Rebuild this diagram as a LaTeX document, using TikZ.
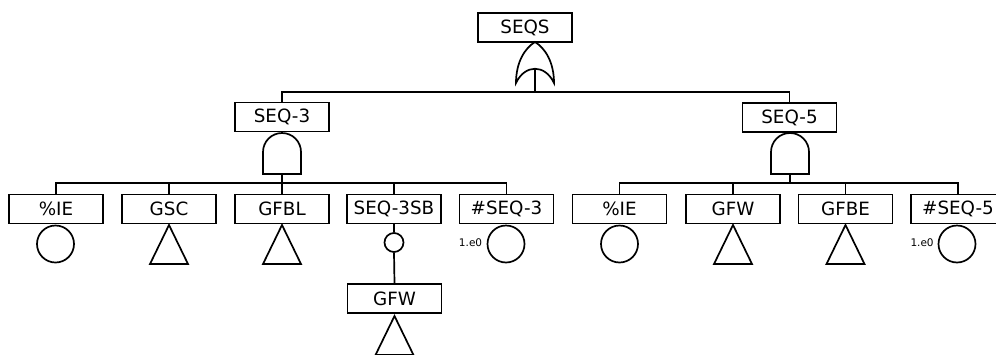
\documentclass[tikz,border=0pt]{standalone}
\usepackage{fontspec}
\setmainfont{DejaVu Sans}
\begin{document}
\begin{tikzpicture}[x=1pt,y=-1pt,line width=1.7pt,
  box/.style={draw, minimum width=94pt, minimum height=29pt, inner sep=0pt,
              font=\fontsize{18.3}{21}\selectfont},
  evcirc/.style={draw, circle, minimum size=37pt, inner sep=0pt},
  smallcirc/.style={draw, circle, minimum size=19pt, inner sep=0pt},
  lbl/.style={font=\fontsize{10.5}{12}\selectfont, inner sep=0pt, anchor=east},
  orgate/.pic={\draw (0,0) .. controls (10,6) and (19,20) .. (19,41)
                 .. controls (10,22) and (-10,22) .. (-19,41)
                 .. controls (-19,20) and (-10,6) .. cycle;},
  andgate/.pic={\draw (-19,41) -- (-19,19) arc[start angle=180,end angle=0,radius=19pt]
                 -- (19,41) -- cycle;},
  tri/.pic={\draw (0,0) -- (19,39) -- (-19,39) -- cycle;}]
\useasboundingbox (0,0) rectangle (996,354);

% top
\node[box] (seqs) at (525,27.5) {SEQS};
\pic at (535,42) {orgate};
\coordinate (orout) at (535,69);
\coordinate (tj) at (535,92);

% second level
\node[box] (seq3) at (282,117) {SEQ-3};
\node[box] (seq5) at (789.5,117.5) {SEQ-5};
\pic at (282,133) {andgate};
\pic at (790,133) {andgate};
\coordinate (and3) at (282,174);
\coordinate (and5) at (790,174);
\coordinate (lj) at (282,183);
\coordinate (rj) at (790,183);

\draw (orout) -- (tj);
\draw (seq3.north) |- (tj) -| (seq5.north);

% bottom row, left
\node[box] (a1) at (56,209) {\%IE};
\node[box] (a2) at (169,209) {GSC};
\node[box] (a3) at (282,209) {GFBL};
\node[box] (a4) at (394,209) {SEQ-3SB};
\node[box] (a5) at (506.5,209) {\#SEQ-3};

% bottom row, right
\node[box] (b1) at (619.5,209) {\%IE};
\node[box] (b2) at (733,209) {GFW};
\node[box] (b3) at (845.5,209) {GFBE};
\node[box] (b4) at (958,209) {\#SEQ-5};

\draw (and3) -- (lj);
\draw (a1.north) |- (lj) -| (a5.north);
\draw (a2.north) -- (a2.north |- lj);
\draw (a3.north) -- (a3.north |- lj);
\draw (a4.north) -- (a4.north |- lj);

\draw (and5) -- (rj);
\draw (b1.north) |- (rj) -| (b4.north);
\draw (b2.north) -- (b2.north |- rj);
\draw (b3.north) -- (b3.north |- rj);

% event symbols
\node[evcirc] (c1) at (55.5,244) {};
\pic at (169,225) {tri};
\pic at (282,225) {tri};
\node[evcirc] (c5) at (506,244) {};
\node[lbl] (l5) at (483,243) {1.e0};

\node[evcirc] (d1) at (619.5,244) {};
\pic at (733,225) {tri};
\pic at (845.5,225) {tri};
\node[evcirc] (d4) at (957,244) {};
\node[lbl] (l9) at (934.5,243) {1.e0};

% transfer under SEQ-3SB
\node[smallcirc] (sc) at (394,242.5) {};
\node[box] (gfw) at (394.5,298.5) {GFW};
\draw (a4.south) -- (sc.north);
\draw (sc.south) -- (gfw.north);
\pic at (394.5,316) {tri};
\end{tikzpicture}
\end{document}
